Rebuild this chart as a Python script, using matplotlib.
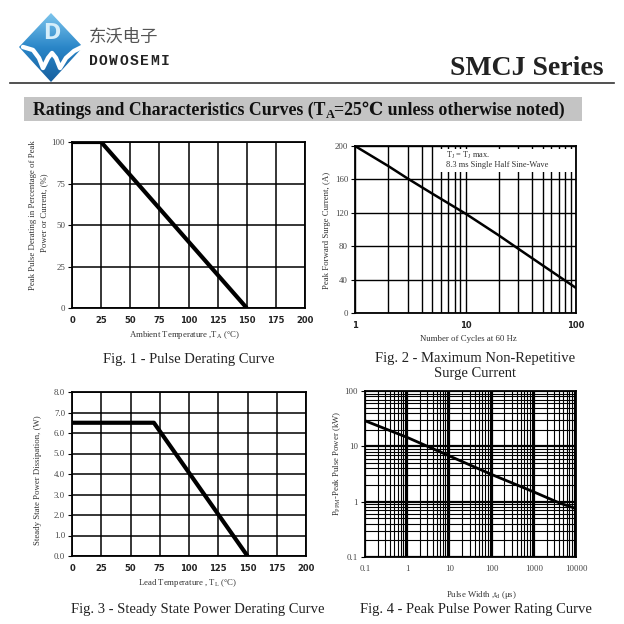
import matplotlib
matplotlib.use('Agg')
import matplotlib.pyplot as plt
import numpy as np
from matplotlib.patches import Polygon, Rectangle
from matplotlib.colors import LinearSegmentedColormap
from matplotlib.ticker import LogLocator, FixedLocator, NullFormatter, FixedFormatter

plt.rcParams['font.family'] = ['Liberation Serif', 'DejaVu Serif', 'Noto Sans CJK SC']
plt.rcParams['mathtext.fontset'] = 'custom'
plt.rcParams['mathtext.rm'] = 'Liberation Serif'
plt.rcParams['mathtext.it'] = 'Liberation Serif:italic'

# ---- data ----
fig1_temp = [0, 25, 150]
fig1_pct = [100, 100, 0]

fig2_cycles = [1, 2, 3, 5, 10, 20, 30, 50, 100]
fig2_current = [200, 176, 161, 143, 119, 93, 77, 57, 30]

fig3_temp = [0, 70, 150]
fig3_power = [6.5, 6.5, 0]

fig4_width = [0.1, 1, 10, 100, 1000, 4000, 10000]
fig4_power = [29, 14.5, 6.7, 3.1, 1.5, 0.95, 0.75]

temp_ticks = [0, 25, 50, 75, 100, 125, 150, 175, 200]
pct_ticks = [0, 25, 50, 75, 100]
surge_ticks = [0, 40, 80, 120, 160, 200]
power_ticks = [0, 1, 2, 3, 4, 5, 6, 7, 8]

W = 624
fig = plt.figure(figsize=(6.24, 6.24), dpi=100)

# overlay in pixel coords for the header, labels and captions
ax0 = fig.add_axes([0, 0, 1, 1])
ax0.set_xlim(0, W)
ax0.set_ylim(W, 0)
ax0.axis('off')


def box(l, t, r, b):
    return [l / W, 1 - b / W, (r - l) / W, (b - t) / W]


def rich_text(x, y, parts, **kw):
    rend = fig.canvas.get_renderer()
    for s, size, dy in parts:
        t = ax0.text(x, y + dy, s, fontsize=size, ha='left', va='baseline', **kw)
        x += t.get_window_extent(renderer=rend).width


# logo
diamond = Polygon([(51, 13), (83, 47), (51, 82), (19, 47)], closed=True,
                  facecolor='none', edgecolor='none')
ax0.add_patch(diamond)
grad = np.linspace(0, 1, 100).reshape(-1, 1)
cm = LinearSegmentedColormap.from_list('logo', ['#7cc4ec', '#2a86c8', '#17609f'])
im = ax0.imshow(grad, extent=(19, 83, 82, 13), cmap=cm, aspect='auto', zorder=1)
im.set_clip_path(diamond)
ax0.text(52, 33, 'D', fontsize=15, fontweight='bold', color='#d6eefa',
         ha='center', va='center', family='DejaVu Sans', zorder=2)
wx = [23, 33, 39, 43, 48, 52, 56, 60, 66, 74, 82]
wy = [47, 50, 58, 68, 58, 53, 58, 68, 58, 51, 47]
ax0.plot(wx, wy, color='white', lw=3.2, solid_capstyle='round', zorder=2)
ax0.set_xlim(0, W)
ax0.set_ylim(W, 0)

ax0.text(89, 37, '东沃电子', fontsize=12.5, color='#555555', family='Noto Sans CJK SC',
         ha='left', va='center')
for i, ch in enumerate('DOWOSEMI'):
    ax0.text(93 + i * 10.3, 61, ch, fontsize=10.5, fontweight='bold', color='#222222',
             family='Liberation Mono', ha='center', va='center')
ax0.text(603, 75, 'SMCJ Series', fontsize=20, fontweight='bold', color='#222222',
         ha='right', va='baseline')
ax0.plot([10, 614], [83, 83], color='#333333', lw=1.2)

ax0.add_patch(Rectangle((24, 97), 558, 24, facecolor='#c4c4c4', edgecolor='none'))
rich_text(33, 115, [('Ratings and Characteristics Curves (T', 12.8, 0),
                    ('A', 9, 3),
                    ('=25℃ unless otherwise noted)', 12.8, 0)],
          fontweight='bold', color='#111111')

lab_kw = dict(fontsize=6.3, color='#333333', ha='center', va='center')
cap_kw = dict(fontsize=10.5, color='#222222', ha='center', va='baseline')

# ---- Fig. 1 ----
ax1 = fig.add_axes(box(72, 142, 305, 308))
ax1.plot(fig1_temp, fig1_pct, color='black', lw=3, solid_capstyle='butt', zorder=3)
ax1.set_xlim(0, 200)
ax1.set_ylim(0, 100)
ax1.set_xticks(temp_ticks)
ax1.set_yticks(pct_ticks)

ax0.text(184, 335, r'Ambient Temperature ,T$_\mathregular{A}$ (°C)', **lab_kw)
ax0.text(33, 215, 'Peak Pulse Derating in Percentage of Peak', rotation=90, **lab_kw)
ax0.text(44, 213, 'Power or Current, (%)', rotation=90, **lab_kw)
ax0.text(189, 363, 'Fig. 1 - Pulse Derating Curve', **cap_kw)

# ---- Fig. 2 ----
ax2 = fig.add_axes(box(355, 146, 576, 313))
ax2.set_xscale('log')
ax2.plot(fig2_cycles, fig2_current, color='black', lw=1.8, zorder=3)
ax2.set_xlim(1, 100)
ax2.set_ylim(0, 200)
ax2.set_yticks(surge_ticks)
ax2.xaxis.set_major_locator(FixedLocator([1, 10, 100]))
ax2.xaxis.set_major_formatter(FixedFormatter(['1', '10', '100']))
ax2.xaxis.set_minor_locator(LogLocator(base=10, subs=np.arange(2, 10), numticks=50))
ax2.xaxis.set_minor_formatter(NullFormatter())
ax2.add_patch(Rectangle((0.385, 0.845), 0.61, 0.14, transform=ax2.transAxes,
                        facecolor='white', edgecolor='none', zorder=2))
ax2.text(0.41, 0.945, r'T$_\mathregular{J}$ = T$_\mathregular{J}$ max.', transform=ax2.transAxes,
         fontsize=6, color='#333333', va='center', zorder=4)
ax2.text(0.41, 0.885, '8.3 ms Single Half Sine-Wave', transform=ax2.transAxes,
         fontsize=6, color='#333333', va='center', zorder=4)

ax0.text(468, 339, 'Number of Cycles at 60 Hz', **lab_kw)
ax0.text(327, 230, 'Peak Forward Surge Current, (A)', rotation=90, **lab_kw)
ax0.text(475, 362, 'Fig. 2 - Maximum Non-Repetitive', **cap_kw)
ax0.text(475, 377, 'Surge Current', **cap_kw)

# ---- Fig. 3 ----
ax3 = fig.add_axes(box(72, 392, 306, 556))
ax3.plot(fig3_temp, fig3_power, color='black', lw=3, solid_capstyle='butt', zorder=3)
ax3.set_xlim(0, 200)
ax3.set_ylim(0, 8)
ax3.set_xticks(temp_ticks)
ax3.set_yticks(power_ticks)
ax3.set_yticklabels(['%.1f' % v for v in power_ticks])

ax0.text(188, 583, r'Lead Temperature , T$_\mathregular{L}$ (°C)', **lab_kw)
ax0.text(38, 480, 'Steady State Power Dissipation, (W)', rotation=90, **lab_kw)
ax0.text(198, 613, 'Fig. 3 - Steady State Power Derating Curve', **cap_kw)

# ---- Fig. 4 ----
ax4 = fig.add_axes(box(365, 391, 576, 557))
ax4.set_xscale('log')
ax4.set_yscale('log')
ax4.plot(fig4_width, fig4_power, color='black', lw=2, zorder=3)
ax4.set_xlim(0.1, 10000)
ax4.set_ylim(0.1, 100)
xt4 = [0.1, 1, 10, 100, 1000, 10000]
yt4 = [0.1, 1, 10, 100]
ax4.xaxis.set_major_locator(FixedLocator(xt4))
ax4.xaxis.set_major_formatter(FixedFormatter(['0.1', '1', '10', '100', '1000', '10000']))
ax4.yaxis.set_major_locator(FixedLocator(yt4))
ax4.yaxis.set_major_formatter(FixedFormatter(['0.1', '1', '10', '100']))
for a in (ax4.xaxis, ax4.yaxis):
    a.set_minor_locator(LogLocator(base=10, subs=np.arange(2, 10), numticks=50))
    a.set_minor_formatter(NullFormatter())

ax0.text(481, 595, r'Pulse Width ,t$_\mathregular{d}$ (μs)', **lab_kw)
ax0.text(337, 463, r'P$_\mathregular{PPM}$-Peak Pulse Power (kW)', rotation=90, **lab_kw)
ax0.text(476, 613, 'Fig. 4 - Peak Pulse Power Rating Curve', **cap_kw)

# ---- common styling ----
for ax in (ax1, ax2, ax3, ax4):
    for sp in ax.spines.values():
        sp.set_linewidth(1.3)
        sp.set_color('black')
    ax.set_axisbelow(True)
    ax.tick_params(axis='y', which='major', length=3, width=0.8, pad=2,
                   labelsize=6.3, labelcolor='#444444')
    ax.tick_params(axis='x', which='major', length=0, pad=6, labelsize=6,
                   labelcolor='#222222')
    ax.tick_params(which='minor', length=0)

for ax in (ax1, ax3):
    ax.grid(True, color='black', lw=1.1)
    for lbl in ax.get_xticklabels():
        lbl.set_family('DejaVu Sans')
        lbl.set_fontweight('bold')

ax2.grid(True, which='both', color='black', lw=1.0)
for lbl in ax2.get_xticklabels():
    lbl.set_family('DejaVu Sans')
    lbl.set_fontweight('bold')

ax4.grid(True, which='minor', color='black', lw=0.8)
ax4.grid(True, which='major', color='black', lw=1.6)
ax4.tick_params(axis='x', labelsize=6.3, labelcolor='#444444')

fig.savefig('out.png', dpi=100)
